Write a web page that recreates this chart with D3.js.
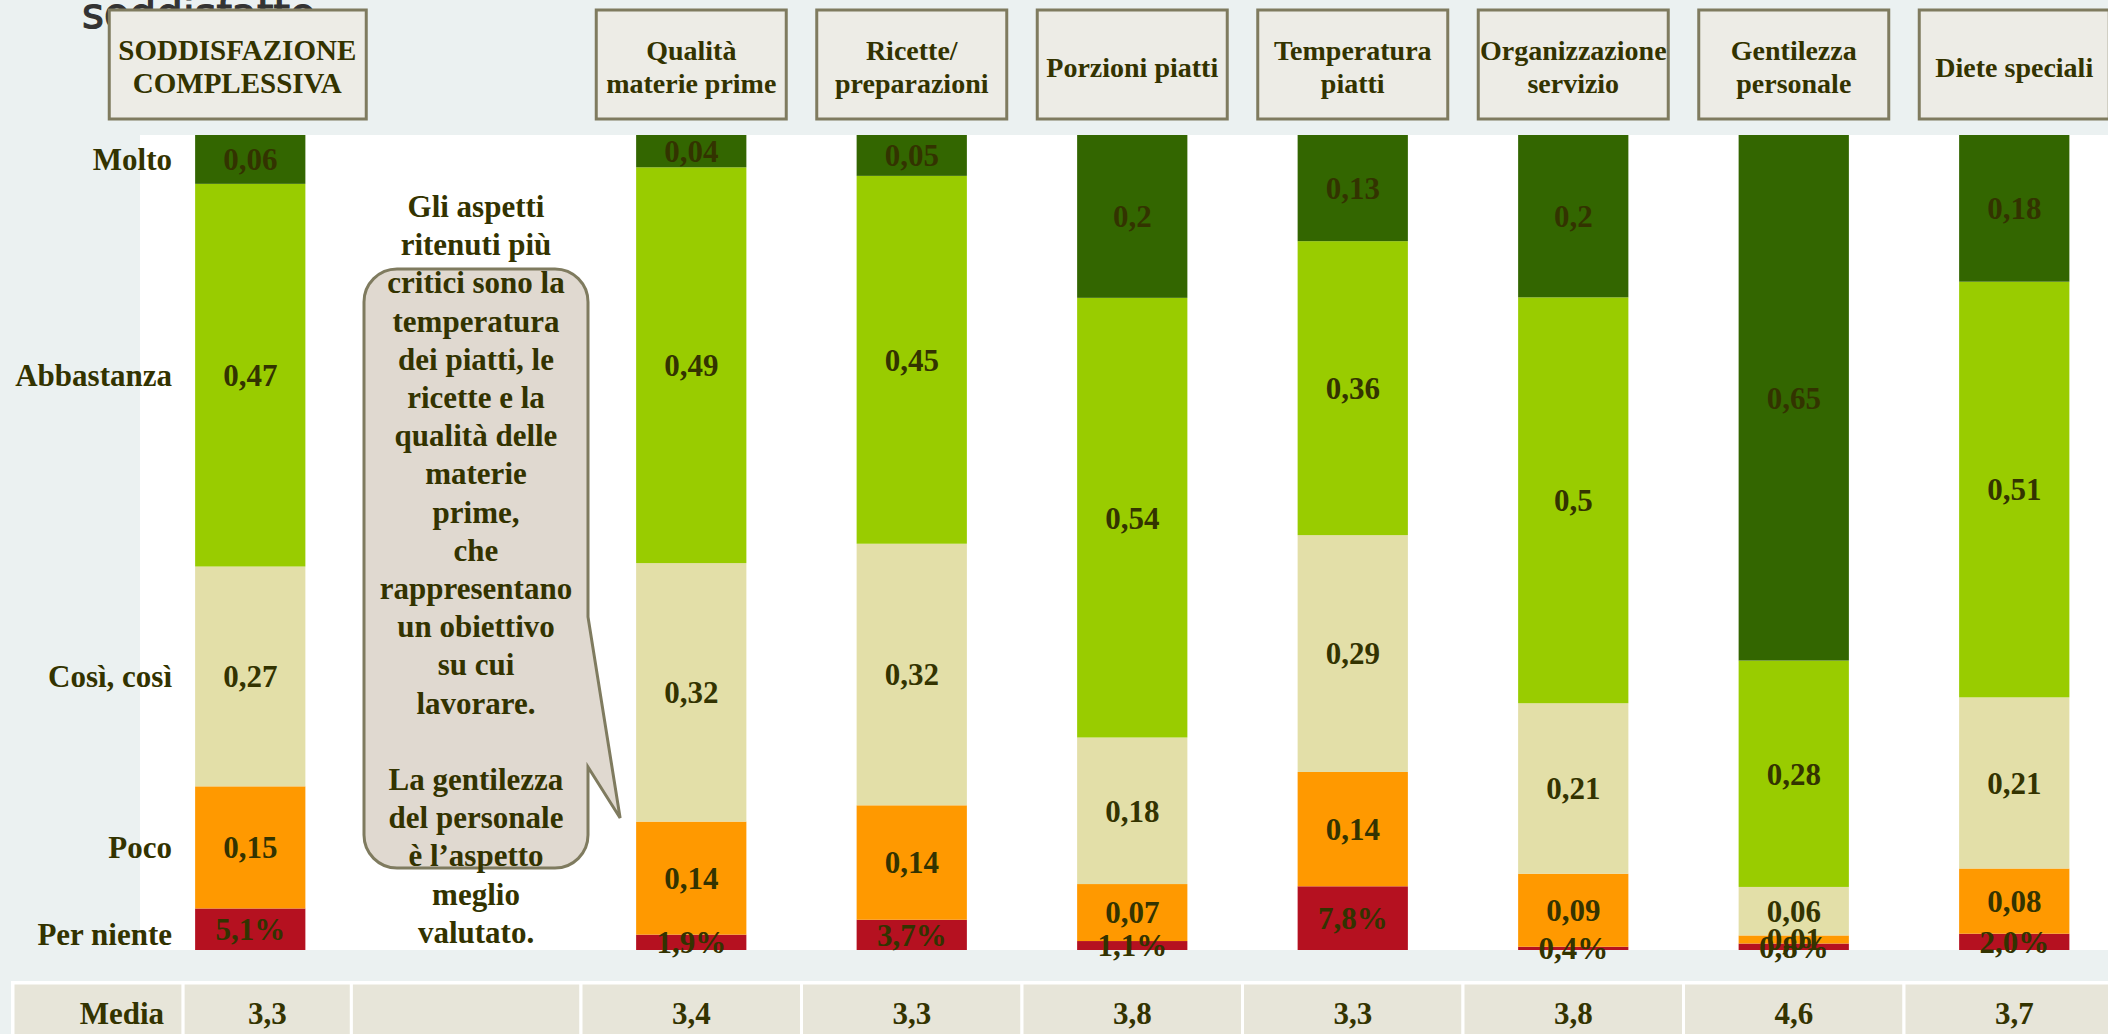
<!DOCTYPE html>
<meta charset="utf-8">
<style>
body { margin: 0; background: #ebf1f1; overflow: hidden; }
svg { display: block; }
text {
  font-family: "Liberation Serif", "Times New Roman", serif;
  font-weight: bold;
  fill: #333300;
}
.title { font-family: "Comic Sans MS", "DejaVu Sans", sans-serif; font-weight: normal; fill: #333; stroke: #333; stroke-width: 1.2; }
.box { fill: #edece6; stroke: #7f7b5f; stroke-width: 3; }
.cell { fill: #e7e5d9; stroke: #fff; stroke-width: 3; }
</style>
<body>
<script src="https://d3js.org/d3.v7.min.js"></script>
<script>

// data
var categories = ["SODDISFAZIONE|COMPLESSIVA", "Qualità|materie prime", "Ricette/|preparazioni",
  "Porzioni piatti", "Temperatura|piatti", "Organizzazione|servizio", "Gentilezza|personale", "Diete speciali"];
var levels = ["Per niente", "Poco", "Così, così", "Abbastanza", "Molto"];
var perNiente  = [0.051, 0.019, 0.037, 0.011, 0.078, 0.004, 0.008, 0.020];
var poco       = [0.15, 0.14, 0.14, 0.07, 0.14, 0.09, 0.01, 0.08];
var cosi       = [0.27, 0.32, 0.32, 0.18, 0.29, 0.21, 0.06, 0.21];
var abbastanza = [0.47, 0.49, 0.45, 0.54, 0.36, 0.5, 0.28, 0.51];
var molto      = [0.06, 0.04, 0.05, 0.2, 0.13, 0.2, 0.65, 0.18];
var media      = [3.3, 3.4, 3.3, 3.8, 3.3, 3.8, 4.6, 3.7];
var colors     = ["#b51120", "#ff9900", "#e3dfa8", "#99cc00", "#336600"];

var calloutLines = ["Gli aspetti", "ritenuti più", "critici sono la", "temperatura", "dei piatti, le",
  "ricette e la", "qualità delle", "materie", "prime,", "che", "rappresentano", "un obiettivo",
  "su cui", "lavorare.", "", "La gentilezza", "del personale", "è l’aspetto", "meglio", "valutato."];

var W = 2108, H = 1034;
var series = [perNiente, poco, cosi, abbastanza, molto];

// one row per bar
var rows = categories.map(function(c, i) {
  var r = {cat: c};
  levels.forEach(function(l, j) { r[l] = series[j][i]; });
  return r;
});

// second slot is left empty for the callout
var slots = [categories[0], "gap"].concat(categories.slice(1));

var x = d3.scaleBand().domain(slots)
    .range([140, 140 + 9 * 220.5])
    .paddingInner(0.5).paddingOuter(0.25);
var y = d3.scaleLinear().domain([0, 1]).range([950, 135]);
var bw = x.bandwidth(), step = x.step();

var stack = d3.stack().keys(levels).offset(d3.stackOffsetExpand);
var layers = stack(rows);

var it = d3.formatLocale({decimal: ",", thousands: ".", grouping: [3], currency: ["€", ""]});
var pct = it.format(".1%");
function comma(v) { return String(v).replace(".", ","); }

var svg = d3.select("body").append("svg").attr("width", W).attr("height", H);

// slide title, mostly hidden behind the boxes
svg.append("text").attr("class", "title")
    .attr("x", 82).attr("y", 28)
    .style("font-size", "42px")
    .text("soddisfatto");

// plot area
svg.append("rect").attr("x", 140).attr("y", 135)
    .attr("width", W - 140).attr("height", 815).attr("fill", "#fff");

// stacked bars
var g = svg.selectAll(".layer").data(layers).enter().append("g")
    .attr("fill", function(d, i) { return colors[i]; });
g.selectAll("rect").data(function(d) { return d; }).enter().append("rect")
    .attr("x", function(d) { return x(d.data.cat); })
    .attr("width", bw)
    .attr("y", function(d) { return y(d[1]); })
    .attr("height", function(d) { return y(d[0]) - y(d[1]); });

// value labels
layers.forEach(function(layer, li) {
  svg.append("g").selectAll("text").data(layer).enter().append("text")
      .attr("x", function(d) { return x(d.data.cat) + bw / 2; })
      .attr("y", function(d) { return y((d[0] + d[1]) / 2); })
      .attr("dy", "0.35em")
      .attr("text-anchor", "middle")
      .style("font-size", "31px")
      .text(function(d) {
        var v = d.data[layer.key];
        return li == 0 ? pct(v) : comma(v);
      });
});

// level labels on the left, aligned with the first bar
svg.append("g").selectAll("text").data(layers).enter().append("text")
    .attr("x", 172)
    .attr("y", function(d) { return y((d[0][0] + d[0][1]) / 2); })
    .attr("dy", function(d, i) { return i == 0 ? "0.5em" : "0.35em"; })
    .attr("text-anchor", "end")
    .style("font-size", "31px")
    .text(function(d) { return d.key; });

// header boxes
var hb = svg.append("g").selectAll("g").data(categories).enter().append("g")
    .attr("transform", function(d, i) {
      var cx = x(d) + bw / 2 + (i == 0 ? -13 : 0);
      return "translate(" + cx + ",10)";
    });
hb.append("rect").attr("class", "box")
    .attr("x", function(d, i) { return i == 0 ? -128 : -95; })
    .attr("width", function(d, i) { return i == 0 ? 257 : 190; })
    .attr("height", 109);
hb.each(function(d, i) {
  var lines = d.split("|");
  d3.select(this).selectAll("text").data(lines).enter().append("text")
      .attr("text-anchor", "middle")
      .attr("y", function(l, k) { return 54.5 + 12 + (k - (lines.length - 1) / 2) * 33; })
      .style("font-size", i == 0 ? "29px" : "28px")
      .text(function(l) { return l; });
});

// callout bubble with its tail pointing at the second bar
var cx0 = 364, cx1 = 588, cy0 = 269, cy1 = 868, r = 33;
var tip = x(categories[1]) - 16;
var bubble = "M" + (cx0 + r) + "," + cy0 + "H" + (cx1 - r) +
  "A" + r + "," + r + " 0 0 1 " + cx1 + "," + (cy0 + r) +
  "V617L" + tip + ",818L" + cx1 + ",767" +
  "V" + (cy1 - r) + "A" + r + "," + r + " 0 0 1 " + (cx1 - r) + "," + cy1 +
  "H" + (cx0 + r) + "A" + r + "," + r + " 0 0 1 " + cx0 + "," + (cy1 - r) +
  "V" + (cy0 + r) + "A" + r + "," + r + " 0 0 1 " + (cx0 + r) + "," + cy0 + "Z";
svg.append("path").attr("d", bubble)
    .attr("fill", "#e0d9d0").attr("stroke", "#7f7b5f").attr("stroke-width", 3);
svg.append("g").selectAll("text").data(calloutLines).enter().append("text")
    .attr("x", 476)
    .attr("y", function(d, i) { return 217 + i * 38.2; })
    .attr("text-anchor", "middle")
    .style("font-size", "31px")
    .text(function(d) { return d; });

// table with the mean scores
var x0 = x(categories[0]);
var cells = [{a: 13, b: x0 - 12, t: "Media", right: true},
             {a: x0 - 12, b: x0 + bw + 46, t: comma(media[0])},
             {a: x0 + bw + 46, b: x(categories[1]) + bw / 2 - step / 2, t: ""}];
categories.slice(1).forEach(function(c, i) {
  var m = x(c) + bw / 2;
  cells.push({a: m - step / 2, b: m + step / 2, t: comma(media[i + 1])});
});
svg.append("rect").attr("x", 11).attr("y", 981).attr("width", W).attr("height", 80).attr("fill", "#fff");
var tb = svg.append("g").selectAll("g").data(cells).enter().append("g");
tb.append("rect").attr("class", "cell")
    .attr("x", function(d) { return d.a; }).attr("y", 983)
    .attr("width", function(d) { return d.b - d.a; }).attr("height", 70);
tb.append("text")
    .attr("x", function(d) { return d.right ? d.b - 19 : (d.a + d.b) / 2; })
    .attr("y", 1024)
    .attr("text-anchor", function(d) { return d.right ? "end" : "middle"; })
    .style("font-size", "31px")
    .text(function(d) { return d.t; });

</script>
</body>
